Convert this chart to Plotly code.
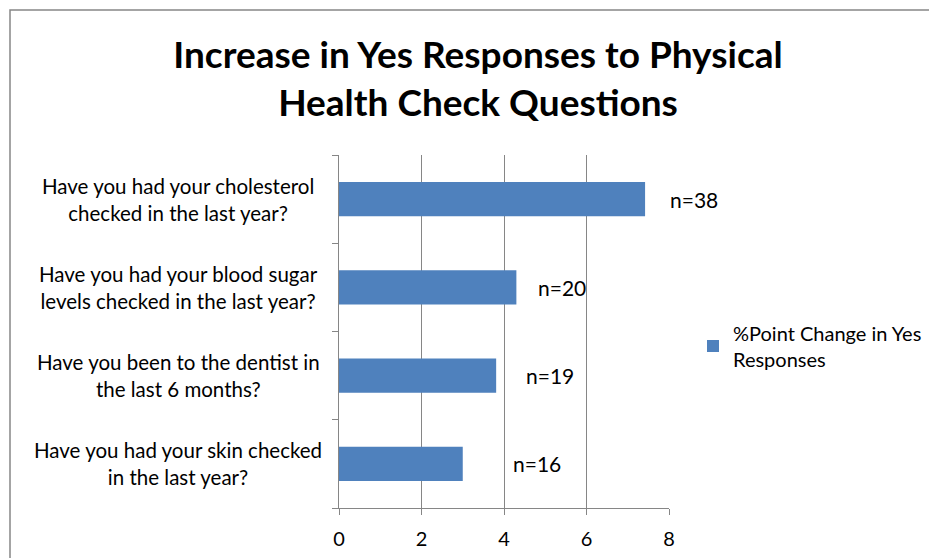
import plotly.graph_objects as go

# data
questions = [
    "Have you had your cholesterol<br>checked in the last year?",
    "Have you had your blood sugar<br>levels checked in the last year?",
    "Have you been to the dentist in<br>the last 6 months?",
    "Have you had your skin checked<br>in the last year?",
]
point_change = [7.42, 4.30, 3.81, 3.00]
n_labels = ["n=38", "n=20", "n=19", "n=16"]
n_label_x = [7.98, 4.78, 4.48, 4.17]
x_ticks = [0, 2, 4, 6, 8]

FONT = "Lato"
GRAY = "#868686"

# page body adds an 8px offset; work in screen pixels and shift back
OFF = 8
W, H = 937, 558
L, R, T, B = 339 - OFF, 669 - OFF, 155 - OFF, 508 - OFF


def px_x(p):
    return (p - OFF - L) / (R - L)


def px_y(p):
    return (B - (p - OFF)) / (B - T)


fig = go.Figure()
fig.add_trace(go.Bar(
    x=point_change,
    y=questions,
    orientation="h",
    width=0.39,
    marker=dict(color="#4F81BD", line=dict(width=0)),
    name="%Point Change in Yes<br>Responses",
    showlegend=True,
))

# n= labels next to the bars
for q, lab, xx in zip(questions, n_labels, n_label_x):
    fig.add_annotation(x=xx, y=q, text=lab, showarrow=False, xanchor="left",
                       yanchor="middle", font=dict(family=FONT, size=21, color="#000"))

# centred category labels
for q in questions:
    fig.add_annotation(x=px_x(178), xref="paper", y=q, text=q, showarrow=False,
                       xanchor="center", yanchor="middle", align="center",
                       font=dict(family=FONT, size=20.5, color="#000"))

# outer chart frame
fig.add_shape(type="rect", xref="paper", yref="paper",
              x0=px_x(10), x1=px_x(960), y0=px_y(580), y1=px_y(10),
              line=dict(color=GRAY, width=1.5), layer="below")

fig.update_layout(
    width=W, height=H,
    margin=dict(l=L, r=W - R, t=T, b=H - B),
    paper_bgcolor="white", plot_bgcolor="white",
    title=dict(text="<b>Increase in Yes Responses to Physical<br>Health Check Questions</b>",
               x=(478 - OFF) / W, xanchor="center", y=1 - (68 - OFF) / H, yanchor="middle",
               font=dict(family=FONT, size=37, color="#000")),
    xaxis=dict(range=[0, 8], tickvals=x_ticks, showgrid=True, gridcolor=GRAY,
               gridwidth=1, showline=True, linecolor=GRAY, linewidth=1,
               ticks="outside", ticklen=6, tickcolor=GRAY, ticklabelstandoff=7,
               tickfont=dict(family=FONT, size=20, color="#000"), zeroline=False,
               automargin=False),
    yaxis=dict(categoryorder="array", categoryarray=questions[::-1],
               showticklabels=False, showline=True, linecolor=GRAY, linewidth=1,
               ticks="outside", ticklen=6, tickcolor=GRAY, tickson="boundaries",
               showgrid=False, automargin=False),
    legend=dict(x=px_x(693), y=px_y(346), xanchor="left", yanchor="middle",
                font=dict(family=FONT, size=20, color="#000"), itemwidth=30,
                bgcolor="rgba(0,0,0,0)"),
    bargap=0.6,
)

fig.write_html("out.html")
